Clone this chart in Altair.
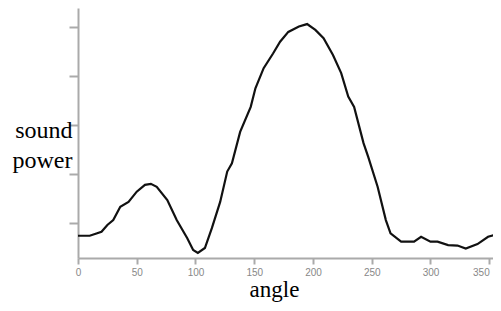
import altair as alt
import pandas as pd

angle = [0, 10, 20, 25, 30, 36, 43, 50, 57, 62, 67, 76, 84, 93, 98, 102, 108, 114,
         121, 127, 131, 138, 147, 151, 158, 166, 172, 179, 188, 195, 202, 209, 217,
         224, 230, 235, 243, 247, 255, 262, 266, 275, 286, 292, 300, 306, 315, 323,
         330, 340, 349, 358, 360]
power = [0.74, 0.74, 0.82, 0.96, 1.06, 1.33, 1.43, 1.64, 1.78, 1.80, 1.74, 1.47, 1.06,
         0.69, 0.45, 0.39, 0.49, 0.90, 1.43, 2.05, 2.22, 2.86, 3.37, 3.75, 4.16, 4.46,
         4.70, 4.90, 5.01, 5.06, 4.94, 4.77, 4.43, 4.06, 3.58, 3.37, 2.63, 2.35, 1.74,
         1.06, 0.79, 0.62, 0.62, 0.72, 0.62, 0.62, 0.55, 0.54, 0.48, 0.57, 0.72, 0.78,
         0.78]
x_ticks = [0, 50, 100, 150, 200, 250, 300, 350]
y_ticks = [1, 2, 3, 4, 5]

df = pd.DataFrame({"angle": angle, "power": power})

chart = alt.Chart(df).mark_line(color="#111111", strokeWidth=2.2, clip=True).encode(
    x=alt.X("angle:Q", scale=alt.Scale(domain=[0, 353.2], nice=False, zero=False),
            axis=alt.Axis(values=x_ticks, title="angle", grid=False,
                          domainColor="#aaaaaa", domainWidth=2,
                          tickColor="#aaaaaa", tickWidth=2, tickSize=6,
                          labelColor="#888888", labelFontSize=10, labelPadding=3,
                          labelFont="Liberation Sans", labelFlush=False,
                          labelAlign=alt.ExprRef(expr="datum.value == 350 ? 'right' : 'center'"),
                          titleFont="Liberation Serif", titleFontSize=23,
                          titleFontWeight="normal", titleColor="#000000",
                          titleX=196, titleY=38, titleBaseline="alphabetic",
                          titleAlign="center")),
    y=alt.Y("power:Q", scale=alt.Scale(domain=[0.286, 5.388], nice=False, zero=False),
            axis=alt.Axis(values=y_ticks, labels=False, title=["sound", "power"],
                          grid=False, domainColor="#aaaaaa", domainWidth=2,
                          tickColor="#aaaaaa", tickWidth=2, tickSize=9,
                          titleFont="Liberation Serif", titleFontSize=24,
                          titleFontWeight="normal", titleColor="#000000",
                          titleAngle=0, titleAlign="right", titleBaseline="alphabetic",
                          titleX=-6, titleY=129, titleLineHeight=30)),
).properties(
    width=415, height=250,
    autosize=alt.AutoSizeParams(type="none"),
    padding={"left": 70, "top": 0, "right": 0, "bottom": 45},
).configure_view(stroke=None)

chart.save("out.html", embed_options={"renderer": "svg", "actions": False})
